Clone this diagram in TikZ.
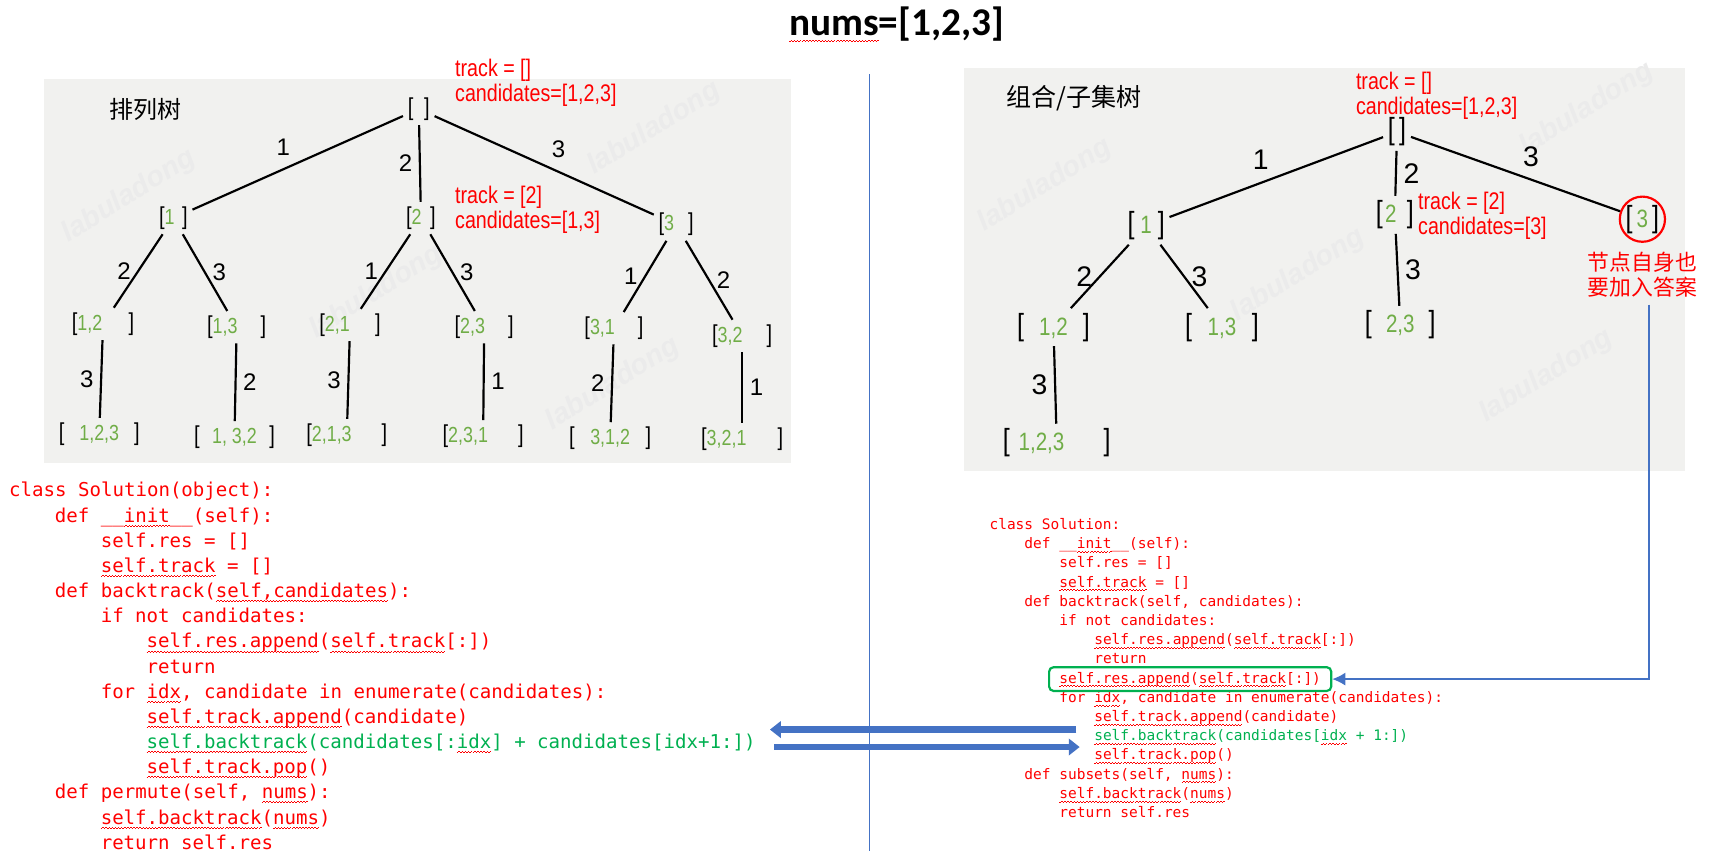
\documentclass[tikz,border=0pt]{standalone}
\usepackage{fontspec}
\usetikzlibrary{arrows.meta,fit}
\setmainfont{Liberation Sans}
\setsansfont{Liberation Sans}
\newfontfamily\treefont[FakeStretch=0.82]{Liberation Sans}
\newfontfamily\codefont{DejaVu Sans Mono}
\newfontfamily\cjk{Noto Sans CJK SC}
\newfontfamily\titlefont{Carlito}
\definecolor{cred}{HTML}{FF0000}
\definecolor{cgreen}{HTML}{00B050}
\definecolor{lgreen}{HTML}{70AD47}
\definecolor{oblue}{HTML}{4472C4}
\definecolor{paper}{HTML}{F1F1EF}
% wavy spell-check line under a word
\newsavebox\sqbox
\newcommand\sq[1]{\sbox\sqbox{#1}\rlap{\color{red}\raisebox{\dimexpr-1.3pt-0.08em\relax}[0pt][0pt]{\hbox to \wd\sqbox{\xleaders\hbox{\rule{0.7pt}{0.35pt}\rule[0.45pt]{0.7pt}{0.35pt}}\hfill}}}\usebox\sqbox}
% bracket node: [ green content ]
\newcommand\gsz{10pt}
\newcommand\bk[3][l]{[\makebox[#2][#1]{\fontsize{\gsz}{\gsz}\selectfont\color{lgreen}#3}]}
\tikzset{
  tnode/.style={font=\treefont\fontsize{11.2}{12}\selectfont, inner sep=2pt, execute at begin node={\def\gsz{10pt}}},
  rnode/.style={font=\treefont\fontsize{14}{15}\selectfont, inner sep=2pt, execute at begin node={\def\gsz{11.5pt}}},
  tline/.style={line width=1pt},
  elab/.style={font=\fontsize{11}{13}\selectfont, inner sep=3pt},
  relab/.style={font=\fontsize{13}{15}\selectfont, inner sep=3pt},
  redtxt/.style={font=\treefont\fontsize{11}{11.5}\selectfont, text=cred, align=left, inner sep=0pt, anchor=west},
  lcode/.style={font=\codefont\fontsize{8.75}{10}\selectfont, text=cred, inner sep=0pt, anchor=base west},
  rcode/.style={font=\codefont\fontsize{6.64}{8}\selectfont, text=cred, inner sep=0pt, anchor=base west},
  bigarrow/.style={line width=3pt, draw=oblue, -{Triangle[width=7.5pt,length=5pt]}},
  wmark/.style={font=\sffamily\bfseries\itshape\fontsize{13}{13}\selectfont, text=black!8, rotate=32},
}

\begin{document}
\begin{tikzpicture}[x=0.5pt,y=-0.5pt]
  \useasboundingbox (0,0) rectangle (1568,795);
  \fill[paper] (40,72) rectangle (725,425);
  \fill[paper] (884,62) rectangle (1545,432);
  \foreach \p [count=\k] in {(118,180),(600,118),(345,268),(562,352),(958,170),(1455,100),(1190,252),(1418,345)}
    {\node[wmark] (wm\k) at \p {labuladong};}

  \node[font=\titlefont\bfseries\fontsize{18}{20}\selectfont] (title) at (822,22) {\sq{nums}=[1,2,3]};
  \draw[oblue, line width=0.6pt] (797,68) -- (797,780);

  % permutation tree
  \node[font=\cjk\fontsize{11}{13}\selectfont] (ltitle) at (133,100) {排列树};
  \node[tnode] (l0) at (384,100) {\bk{5pt}{}};
  \node[redtxt] (lnote0) at (417,76) {track = []\\candidates=[1,2,3]};
  \node[tnode] (l1) at (159,200) {\bk{8pt}{1}};
  \node[tnode] (l2) at (386,200) {\bk{8.5pt}{2}};
  \node[tnode] (l3) at (620,206) {\bk{11pt}{3}};
  \node[redtxt] (lnote1) at (417,192) {track = [2]\\candidates=[1,3]};
  \node[tnode] (l12) at (94.5,297) {\bk{23.5pt}{1,2}};
  \node[tnode] (l13) at (217,300) {\bk{22pt}{1,3}};
  \node[tnode] (l21) at (321,298) {\bk{23pt}{2,1}};
  \node[tnode] (l23) at (444,300) {\bk{22pt}{2,3}};
  \node[tnode] (l31) at (563,301) {\bk{22pt}{3,1}};
  \node[tnode] (l32) at (680.5,308) {\bk{22.5pt}{3,2}};
  \node[tnode] (l123) at (91,398) {\bk[c]{32pt}{1,2,3}};
  \node[tnode] (l132) at (215,401) {\bk[c]{32pt}{1, 3,2}};
  \node[tnode] (l213) at (318,399) {\bk{32pt}{2,1,3}};
  \node[tnode] (l231) at (443,400) {\bk{32pt}{2,3,1}};
  \node[tnode] (l312) at (559.5,402) {\bk[c]{32.5pt}{3,1,2}};
  \node[tnode] (l321) at (680.5,403) {\bk{32.5pt}{3,2,1}};
  \draw[tline] (l0) -- node[elab, above left] (le1) {1} (l1);
  \draw[tline] (l0) -- node[elab, left] (le2) {2} (l2);
  \draw[tline] (l0) -- node[elab, above right] (le3) {3} (l3);
  \draw[tline] (l1) -- node[elab, left] (le12) {2} (l12);
  \draw[tline] (l1) -- node[elab, right] (le13) {3} (l13);
  \draw[tline] (l2) -- node[elab, left] (le21) {1} (l21);
  \draw[tline] (l2) -- node[elab, right] (le23) {3} (l23);
  \draw[tline] (l3) -- node[elab, left] (le31) {1} (l31);
  \draw[tline] (l3) -- node[elab, right] (le32) {2} (l32);
  \draw[tline] (l12) -- node[elab, left] (le123) {3} (l123);
  \draw[tline] (l13) -- node[elab, right] (le132) {2} (l132);
  \draw[tline] (l21) -- node[elab, left] (le213) {3} (l213);
  \draw[tline] (l23) -- node[elab, right] (le231) {1} (l231);
  \draw[tline] (l31) -- node[elab, left] (le312) {2} (l312);
  \draw[tline] (l32) -- node[elab, right] (le321) {1} (l321);

  % subset tree
  \node[font=\cjk\fontsize{11.5}{13}\selectfont] (rtitle) at (985,90) {组合/子集树};
  \node[rnode] (r0) at (1281,121) {\bk{2pt}{}};
  \node[redtxt] (rnote0) at (1243,88) {track = []\\candidates=[1,2,3]};
  \node[rnode] (r1) at (1051,207) {\bk[c]{10.6pt}{1}};
  \node[rnode] (r2) at (1279,197) {\bk{11pt}{\hspace{1pt}2}};
  \node[rnode, circle, draw=cred, line width=1pt, inner sep=0.2pt] (r3) at (1506,201) {\bk[c]{9pt}{3}};
  \node[redtxt] (rnote1) at (1300,198) {track = [2]\\candidates=[3]};
  \node[font=\cjk\fontsize{10}{11.5}\selectfont, text=cred, align=center] (rnote) at (1506,251.5) {节点自身也\\要加入答案};
  \node[rnode] (r12) at (966,300) {\bk[c]{27pt}{1,2}};
  \node[rnode] (r13) at (1120.5,300) {\bk[c]{27.5pt}{1,3}};
  \node[rnode] (r23) at (1284,298) {\bk[c]{26pt}{2,3}};
  \node[rnode] (r123) at (969,406) {\bk{43pt}{\hspace{4pt}1,2,3}};
  \draw[tline] (r0) -- node[relab, above left] (re1) {1} (r1);
  \draw[tline] (r0) -- node[relab, right] (re2) {2} (r2);
  \draw[tline] (r0) -- node[relab, above right] (re3) {3} (r3);
  \draw[tline] (r1) -- node[relab, left] (re12) {2} (r12);
  \draw[tline] (r1) -- node[relab, right] (re13) {3} (r13);
  \draw[tline] (r2) -- node[relab, right] (re23) {3} (r23);
  \draw[tline] (r12) -- node[relab, left] (re123) {3} (r123);

  % permute code
  \foreach \n/\d/\t in {
    0/0/{class Solution(object):},
    1/1/{def \_\_\sq{init}\_\_(self):},
    2/2/{self.res = []},
    3/2/{\sq{self.track} = []},
    4/1/{def backtrack(\sq{self,candidates}):},
    5/2/{if not candidates:},
    6/3/{\sq{self.res.append}(\sq{self.track}[:])},
    7/3/{return},
    8/2/{for \sq{idx}, candidate in enumerate(candidates):},
    9/3/{\sq{self.track.append}(candidate)},
    10/3/{\color{cgreen}\sq{self.backtrack}(candidates[:\sq{idx}] + candidates[idx+1:])},
    11/3/{\sq{self.track.pop}()},
    12/1/{def permute(self, \sq{nums}):},
    13/2/{\sq{self.backtrack}(\sq{nums})},
    14/2/{return self.res}}
    {\node[lcode] (lc\n) at ({8+42*\d},{455.7+23.07*\n}) {\t};}

  % subsets code
  \foreach \n/\d/\t in {
    0/0/{class Solution:},
    1/1/{def \_\_\sq{init}\_\_(self):},
    2/2/{self.res = []},
    3/2/{\sq{self.track} = []},
    4/1/{def backtrack(self, candidates):},
    5/2/{if not candidates:},
    6/3/{\sq{self.res.append}(\sq{self.track}[:])},
    7/3/{return},
    8/2/{\sq{self.res.append}(\sq{self.track}[:])},
    9/2/{for \sq{idx}, candidate in enumerate(candidates):},
    10/3/{\sq{self.track.append}(candidate)},
    11/3/{\color{cgreen}\sq{self.backtrack}(candidates[\sq{idx} + 1:])},
    12/3/{\sq{self.track.pop}()},
    13/1/{def subsets(self, \sq{nums}):},
    14/2/{\sq{self.backtrack}(\sq{nums})},
    15/2/{return self.res}}
    {\node[rcode] (rc\n) at ({907+32*\d},{485.6+17.6*\n}) {\t};}
  \node[draw=cgreen, line width=1pt, rounded corners=2pt, inner xsep=4.5pt, inner ysep=2pt, fit=(rc8)] (hl) {};

  \draw[oblue, line width=0.6pt, -{Latex[length=6pt,width=6pt]}] ([xshift=3pt]rnote.south) |- (hl.east);
  \coordinate (upS) at (987,669);
  \coordinate (upE) at (706,669);
  \coordinate (dnS) at (710,685);
  \coordinate (dnE) at (990,685);
  \draw[bigarrow] (upS) -- (upE);
  \draw[bigarrow] (dnS) -- (dnE);
\end{tikzpicture}
\end{document}
